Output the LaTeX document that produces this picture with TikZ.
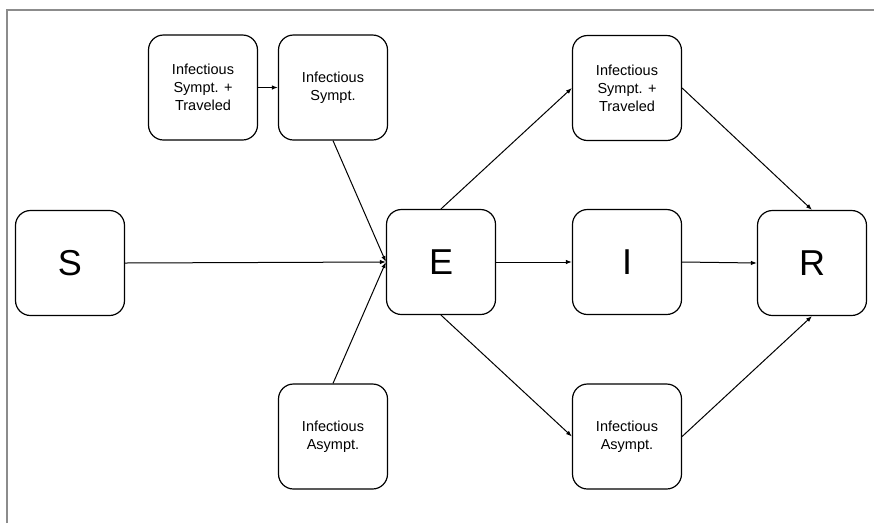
\documentclass[tikz,border=0pt]{standalone}
\usepackage{fontspec}
\setmainfont{Liberation Sans}
\usetikzlibrary{arrows.meta}
\begin{document}
\begin{tikzpicture}[x=1pt,y=-1pt,
  box/.style={draw, line width=1.2pt, rounded corners=15pt, minimum width=109pt,
    minimum height=105pt, inner sep=0pt, align=center,
    font=\fontsize{14.5}{18}\selectfont},
  bigbox/.style={box, font=\fontsize{36}{40}\selectfont},
  flow/.style={draw, line width=1pt, -{Latex[length=6pt,width=4.5pt]}}]
  \useasboundingbox (0,0) rectangle (874,523);
  % page frame
  \draw[gray!90, line width=2pt] (7,523) -- (7,10) -- (874,10);
  % compartments
  \node[box] (tl) at (203,87.5) {Infectious\\Sympt. +\\Traveled};
  \node[box] (sy) at (333,87.5) {Infectious\\Sympt.};
  \node[box] (as) at (333,436.5) {Infectious\\Asympt.};
  \node[bigbox] (S) at (70,263) {S};
  \node[bigbox] (E) at (441,262) {E};
  \node[bigbox] (I) at (627,262) {I};
  \node[bigbox] (R) at (812,263) {R};
  \node[box] (tr) at (627,88) {Infectious\\Sympt. +\\Traveled};
  \node[box] (br) at (627,436.5) {Infectious\\Asympt.};
  % transitions
  \path[flow] (tl.east) -- (sy.west);
  \path[flow] (sy.south) -- (E.west);
  \path[flow] (S.east) -- (E.west);
  \path[flow] (as.north) -- (E.west);
  \path[flow] (E.north) -- (tr.west);
  \path[flow] (E.east) -- (I.west);
  \path[flow] (E.south) -- (br.west);
  \path[flow] (tr.east) -- (R.north);
  \path[flow] (I.east) -- (R.west);
  \path[flow] (br.east) -- (R.south);
\end{tikzpicture}
\end{document}
